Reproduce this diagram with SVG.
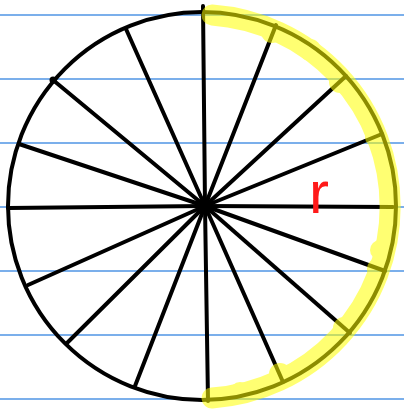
<svg xmlns="http://www.w3.org/2000/svg" width="404" height="414" viewBox="0 0 404 414">
<style>
.rule{stroke:#4f95e4;stroke-width:1.6}
.spoke{stroke:#000;stroke-width:4;stroke-linecap:round}
.rim{fill:none;stroke:#000;stroke-width:4}
.hl{fill:none;stroke:#ffff00;stroke-linecap:round;stroke-linejoin:round}
.blob{fill:#ffff00}
.lbl{font-family:"Liberation Sans",Arial,sans-serif;font-size:60px;fill:#ff1a1a}
</style>
<rect width="404" height="414" fill="#fff"/>
<g id="rules">
<line class="rule" x1="0" y1="15" x2="404" y2="15"/>
<line class="rule" x1="0" y1="79" x2="404" y2="79"/>
<line class="rule" x1="0" y1="143" x2="404" y2="143"/>
<line class="rule" x1="0" y1="207" x2="404" y2="207"/>
<line class="rule" x1="0" y1="271" x2="404" y2="271"/>
<line class="rule" x1="0" y1="335" x2="404" y2="335"/>
<line class="rule" x1="0" y1="399" x2="404" y2="399"/>
</g>
<g id="circle">
<circle class="rim" cx="202" cy="206" r="194"/>
</g>
<g id="spokes">
<line class="spoke" x1="205" y1="206" x2="203" y2="6"/>
<line class="spoke" x1="205" y1="206" x2="276" y2="25"/>
<line class="spoke" x1="205" y1="206" x2="346" y2="76"/>
<line class="spoke" x1="205" y1="206" x2="382" y2="134"/>
<line class="spoke" x1="205" y1="206" x2="393" y2="207"/>
<line class="spoke" x1="205" y1="206" x2="385" y2="271"/>
<line class="spoke" x1="205" y1="206" x2="350" y2="333"/>
<line class="spoke" x1="205" y1="206" x2="283" y2="382"/>
<line class="spoke" x1="205" y1="206" x2="208" y2="401"/>
<line class="spoke" x1="205" y1="206" x2="135" y2="386"/>
<line class="spoke" x1="205" y1="206" x2="67" y2="343"/>
<line class="spoke" x1="205" y1="206" x2="28" y2="285"/>
<line class="spoke" x1="205" y1="206" x2="8" y2="208"/>
<line class="spoke" x1="205" y1="206" x2="19" y2="144"/>
<line class="spoke" x1="205" y1="206" x2="53" y2="80"/>
<line class="spoke" x1="205" y1="206" x2="126" y2="29"/>
<circle cx="53" cy="80" r="3.5" fill="#000"/>
</g>
<g id="highlight" opacity="0.55">
<path class="hl" stroke-width="21" d="M 212 15 A 192 192 0 0 1 212 398"/>
<circle class="blob" cx="272" cy="32" r="11"/>
<circle class="blob" cx="310" cy="50" r="11"/>
<circle class="blob" cx="340" cy="82" r="11"/>
<circle class="blob" cx="375" cy="137" r="10"/>
<circle class="blob" cx="380" cy="250" r="10"/>
<circle class="blob" cx="378" cy="269" r="11"/>
<circle class="blob" cx="344" cy="328" r="11"/>
<circle class="blob" cx="280" cy="374" r="11"/>
<circle class="blob" cx="240" cy="392" r="10"/>
</g>
<g id="label">
<text class="lbl" x="309" y="213">r</text>
</g>
</svg>
